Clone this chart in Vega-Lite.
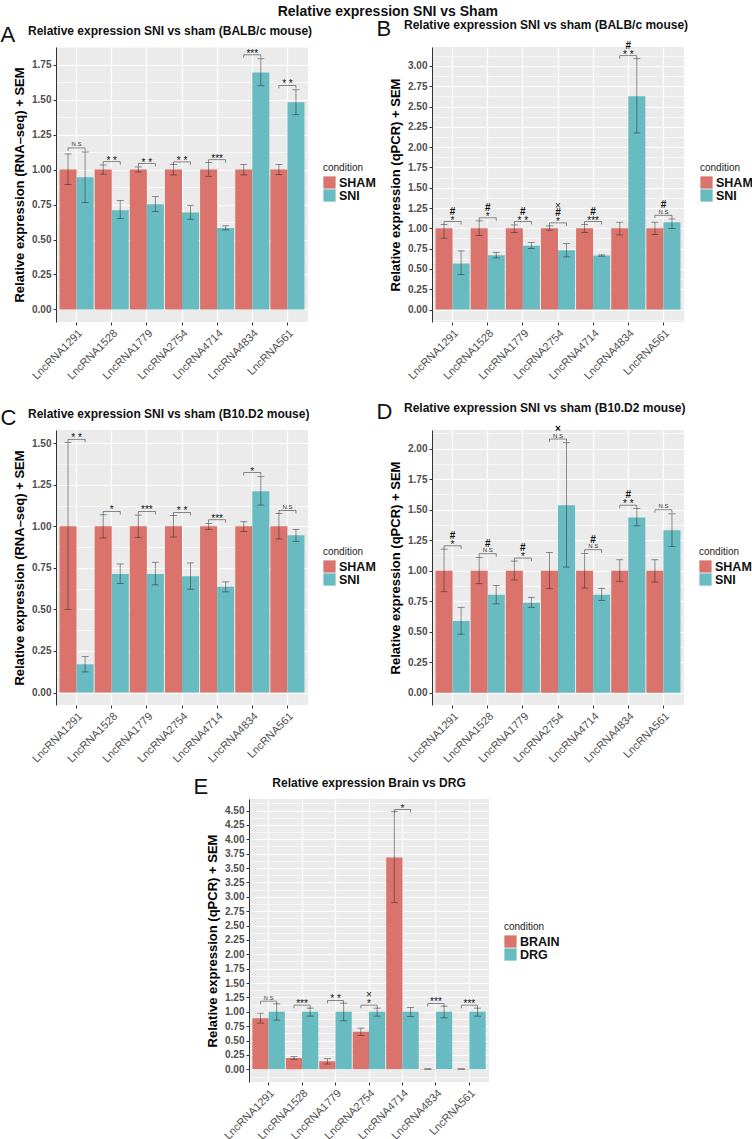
{
  "$schema": "https://vega.github.io/schema/vega-lite/v6.json",
  "padding": {"top": 4, "left": 0, "right": 0, "bottom": 0},
  "title": {"text": "Relative expression SNI vs Sham", "fontSize": 14, "fontWeight": "bold", "anchor": "middle", "color": "#111", "dx": 11, "offset": -1},
  "config": {
    "font": "Liberation Sans",
    "view": {"fill": "#EBEBEB", "stroke": null},
    "axisX": {"grid": true, "gridColor": "white", "gridWidth": 1.2, "labelAngle": -45, "labelFontSize": 11, "labelColor": "#4D4D4D", "tickSize": 3, "tickColor": "#333", "domain": false, "labelPadding": 2},
    "axisY": {"domain": true, "domainColor": "#333", "domainWidth": 1, "labelFontWeight": "bold", "labelFontSize": 10, "labelColor": "#4D4D4D", "tickSize": 3, "tickColor": "#333", "titleFontSize": 13, "titleFontWeight": "bold", "titleColor": "#000", "titlePadding": 5, "gridColor": "white", "gridWidth": 1.2, "labelPadding": 2, "labelFlush": false, "labelOverlap": false, "format": ".2f"},
    "legend": {"orient": "none", "titleFontSize": 10, "titleFontWeight": "normal", "titleColor": "#222", "labelFontSize": 12.5, "labelFontWeight": "bold", "labelColor": "#111", "symbolType": "square", "symbolSize": 150, "symbolStrokeWidth": 0, "symbolOpacity": 1, "rowPadding": 0, "titlePadding": 3, "labelOffset": 3}
  },
  "datasets": {
    "aBars": [
      {"gene": "LncRNA1291", "condition": "SHAM", "mean": 1.0, "lo": 0.893, "hi": 1.112},
      {"gene": "LncRNA1291", "condition": "SNI", "mean": 0.945, "lo": 0.764, "hi": 1.126},
      {"gene": "LncRNA1528", "condition": "SHAM", "mean": 1.0, "lo": 0.967, "hi": 1.033},
      {"gene": "LncRNA1528", "condition": "SNI", "mean": 0.71, "lo": 0.65, "hi": 0.779},
      {"gene": "LncRNA1779", "condition": "SHAM", "mean": 1.0, "lo": 0.983, "hi": 1.019},
      {"gene": "LncRNA1779", "condition": "SNI", "mean": 0.752, "lo": 0.70, "hi": 0.807},
      {"gene": "LncRNA2754", "condition": "SHAM", "mean": 1.0, "lo": 0.962, "hi": 1.036},
      {"gene": "LncRNA2754", "condition": "SNI", "mean": 0.693, "lo": 0.645, "hi": 0.743},
      {"gene": "LncRNA4714", "condition": "SHAM", "mean": 1.0, "lo": 0.952, "hi": 1.05},
      {"gene": "LncRNA4714", "condition": "SNI", "mean": 0.583, "lo": 0.569, "hi": 0.598},
      {"gene": "LncRNA4834", "condition": "SHAM", "mean": 1.0, "lo": 0.962, "hi": 1.036},
      {"gene": "LncRNA4834", "condition": "SNI", "mean": 1.695, "lo": 1.60, "hi": 1.793},
      {"gene": "LncRNA561", "condition": "SHAM", "mean": 1.0, "lo": 0.964, "hi": 1.036},
      {"gene": "LncRNA561", "condition": "SNI", "mean": 1.481, "lo": 1.393, "hi": 1.571}
    ],
    "aAnn": [
      {"gene": "LncRNA1291", "bracket": 1.155, "sig": "N.S"},
      {"gene": "LncRNA1528", "bracket": 1.057, "sig": "* *"},
      {"gene": "LncRNA1779", "bracket": 1.043, "sig": "* *"},
      {"gene": "LncRNA2754", "bracket": 1.055, "sig": "* *"},
      {"gene": "LncRNA4714", "bracket": 1.071, "sig": "***"},
      {"gene": "LncRNA4834", "bracket": 1.821, "sig": "***"},
      {"gene": "LncRNA561", "bracket": 1.602, "sig": "* *"}
    ],
    "bBars": [
      {"gene": "LncRNA1291", "condition": "SHAM", "mean": 1.0, "lo": 0.878, "hi": 1.046},
      {"gene": "LncRNA1291", "condition": "SNI", "mean": 0.566, "lo": 0.431, "hi": 0.722},
      {"gene": "LncRNA1528", "condition": "SHAM", "mean": 1.0, "lo": 0.911, "hi": 1.092},
      {"gene": "LncRNA1528", "condition": "SNI", "mean": 0.669, "lo": 0.636, "hi": 0.702},
      {"gene": "LncRNA1779", "condition": "SHAM", "mean": 1.0, "lo": 0.948, "hi": 1.042},
      {"gene": "LncRNA1779", "condition": "SNI", "mean": 0.784, "lo": 0.751, "hi": 0.825},
      {"gene": "LncRNA2754", "condition": "SHAM", "mean": 1.0, "lo": 0.977, "hi": 1.03},
      {"gene": "LncRNA2754", "condition": "SNI", "mean": 0.73, "lo": 0.648, "hi": 0.813},
      {"gene": "LncRNA4714", "condition": "SHAM", "mean": 1.0, "lo": 0.948, "hi": 1.046},
      {"gene": "LncRNA4714", "condition": "SNI", "mean": 0.665, "lo": 0.657, "hi": 0.673},
      {"gene": "LncRNA4834", "condition": "SHAM", "mean": 1.0, "lo": 0.919, "hi": 1.075},
      {"gene": "LncRNA4834", "condition": "SNI", "mean": 2.626, "lo": 2.175, "hi": 3.09},
      {"gene": "LncRNA561", "condition": "SHAM", "mean": 1.0, "lo": 0.923, "hi": 1.075},
      {"gene": "LncRNA561", "condition": "SNI", "mean": 1.075, "lo": 0.997, "hi": 1.116}
    ],
    "bAnn": [
      {"gene": "LncRNA1291", "bracket": 1.083, "sig": "*", "l2": "#"},
      {"gene": "LncRNA1528", "bracket": 1.129, "sig": "*", "l2": "#"},
      {"gene": "LncRNA1779", "bracket": 1.083, "sig": "* *", "l2": "#"},
      {"gene": "LncRNA2754", "bracket": 1.067, "sig": "*", "l2": "#", "l3": "×"},
      {"gene": "LncRNA4714", "bracket": 1.083, "sig": "***", "l2": "#"},
      {"gene": "LncRNA4834", "bracket": 3.127, "sig": "* *", "l2": "#"},
      {"gene": "LncRNA561", "bracket": 1.161, "sig": "N.S", "l2": "#"}
    ],
    "cBars": [
      {"gene": "LncRNA1291", "condition": "SHAM", "mean": 1.0, "lo": 0.5, "hi": 1.504},
      {"gene": "LncRNA1291", "condition": "SNI", "mean": 0.17, "lo": 0.124, "hi": 0.216},
      {"gene": "LncRNA1528", "condition": "SHAM", "mean": 1.0, "lo": 0.93, "hi": 1.07},
      {"gene": "LncRNA1528", "condition": "SNI", "mean": 0.714, "lo": 0.656, "hi": 0.774},
      {"gene": "LncRNA1779", "condition": "SHAM", "mean": 1.0, "lo": 0.934, "hi": 1.068},
      {"gene": "LncRNA1779", "condition": "SNI", "mean": 0.714, "lo": 0.648, "hi": 0.784},
      {"gene": "LncRNA2754", "condition": "SHAM", "mean": 1.0, "lo": 0.936, "hi": 1.066},
      {"gene": "LncRNA2754", "condition": "SNI", "mean": 0.70, "lo": 0.622, "hi": 0.78},
      {"gene": "LncRNA4714", "condition": "SHAM", "mean": 1.0, "lo": 0.982, "hi": 1.018},
      {"gene": "LncRNA4714", "condition": "SNI", "mean": 0.636, "lo": 0.606, "hi": 0.666},
      {"gene": "LncRNA4834", "condition": "SHAM", "mean": 1.0, "lo": 0.97, "hi": 1.028},
      {"gene": "LncRNA4834", "condition": "SNI", "mean": 1.212, "lo": 1.128, "hi": 1.30},
      {"gene": "LncRNA561", "condition": "SHAM", "mean": 1.0, "lo": 0.924, "hi": 1.078},
      {"gene": "LncRNA561", "condition": "SNI", "mean": 0.946, "lo": 0.91, "hi": 0.982}
    ],
    "cAnn": [
      {"gene": "LncRNA1291", "bracket": 1.524, "sig": "* *"},
      {"gene": "LncRNA1528", "bracket": 1.09, "sig": "*"},
      {"gene": "LncRNA1779", "bracket": 1.09, "sig": "***"},
      {"gene": "LncRNA2754", "bracket": 1.084, "sig": "* *"},
      {"gene": "LncRNA4714", "bracket": 1.04, "sig": "***"},
      {"gene": "LncRNA4834", "bracket": 1.324, "sig": "*"},
      {"gene": "LncRNA561", "bracket": 1.096, "sig": "N.S"}
    ],
    "dBars": [
      {"gene": "LncRNA1291", "condition": "SHAM", "mean": 1.0, "lo": 0.828, "hi": 1.177},
      {"gene": "LncRNA1291", "condition": "SNI", "mean": 0.589, "lo": 0.48, "hi": 0.70},
      {"gene": "LncRNA1528", "condition": "SHAM", "mean": 1.0, "lo": 0.894, "hi": 1.109},
      {"gene": "LncRNA1528", "condition": "SNI", "mean": 0.804, "lo": 0.728, "hi": 0.88},
      {"gene": "LncRNA1779", "condition": "SHAM", "mean": 1.0, "lo": 0.924, "hi": 1.079},
      {"gene": "LncRNA1779", "condition": "SNI", "mean": 0.738, "lo": 0.70, "hi": 0.782},
      {"gene": "LncRNA2754", "condition": "SHAM", "mean": 1.0, "lo": 0.853, "hi": 1.15},
      {"gene": "LncRNA2754", "condition": "SNI", "mean": 1.537, "lo": 1.03, "hi": 2.049},
      {"gene": "LncRNA4714", "condition": "SHAM", "mean": 1.0, "lo": 0.858, "hi": 1.142},
      {"gene": "LncRNA4714", "condition": "SNI", "mean": 0.804, "lo": 0.757, "hi": 0.856},
      {"gene": "LncRNA4834", "condition": "SHAM", "mean": 1.0, "lo": 0.913, "hi": 1.09},
      {"gene": "LncRNA4834", "condition": "SNI", "mean": 1.436, "lo": 1.368, "hi": 1.51},
      {"gene": "LncRNA561", "condition": "SHAM", "mean": 1.0, "lo": 0.907, "hi": 1.09},
      {"gene": "LncRNA561", "condition": "SNI", "mean": 1.332, "lo": 1.199, "hi": 1.466}
    ],
    "dAnn": [
      {"gene": "LncRNA1291", "bracket": 1.204, "sig": "*", "l2": "#"},
      {"gene": "LncRNA1528", "bracket": 1.139, "sig": "N.S", "l2": "#"},
      {"gene": "LncRNA1779", "bracket": 1.104, "sig": "*", "l2": "#"},
      {"gene": "LncRNA2754", "bracket": 2.079, "sig": "N.S", "l2": "×"},
      {"gene": "LncRNA4714", "bracket": 1.172, "sig": "N.S", "l2": "#"},
      {"gene": "LncRNA4834", "bracket": 1.537, "sig": "* *", "l2": "#"},
      {"gene": "LncRNA561", "bracket": 1.499, "sig": "N.S"}
    ],
    "eBars": [
      {"gene": "LncRNA1291", "condition": "BRAIN", "mean": 0.89, "lo": 0.804, "hi": 0.977},
      {"gene": "LncRNA1291", "condition": "DRG", "mean": 1.0, "lo": 0.856, "hi": 1.139},
      {"gene": "LncRNA1528", "condition": "BRAIN", "mean": 0.197, "lo": 0.174, "hi": 0.22},
      {"gene": "LncRNA1528", "condition": "DRG", "mean": 1.0, "lo": 0.925, "hi": 1.064},
      {"gene": "LncRNA1779", "condition": "BRAIN", "mean": 0.139, "lo": 0.093, "hi": 0.185},
      {"gene": "LncRNA1779", "condition": "DRG", "mean": 1.0, "lo": 0.844, "hi": 1.151},
      {"gene": "LncRNA2754", "condition": "BRAIN", "mean": 0.654, "lo": 0.59, "hi": 0.717},
      {"gene": "LncRNA2754", "condition": "DRG", "mean": 1.0, "lo": 0.925, "hi": 1.064},
      {"gene": "LncRNA4714", "condition": "BRAIN", "mean": 3.684, "lo": 2.898, "hi": 4.482},
      {"gene": "LncRNA4714", "condition": "DRG", "mean": 1.0, "lo": 0.92, "hi": 1.076},
      {"gene": "LncRNA4834", "condition": "BRAIN", "mean": 0.006, "lo": 0.004, "hi": 0.008},
      {"gene": "LncRNA4834", "condition": "DRG", "mean": 1.0, "lo": 0.896, "hi": 1.099},
      {"gene": "LncRNA561", "condition": "BRAIN", "mean": 0.006, "lo": 0.004, "hi": 0.008},
      {"gene": "LncRNA561", "condition": "DRG", "mean": 1.0, "lo": 0.925, "hi": 1.064}
    ],
    "eAnn": [
      {"gene": "LncRNA1291", "bracket": 1.186, "sig": "N.S"},
      {"gene": "LncRNA1528", "bracket": 1.116, "sig": "***"},
      {"gene": "LncRNA1779", "bracket": 1.197, "sig": "* *"},
      {"gene": "LncRNA2754", "bracket": 1.116, "sig": "*", "l2": "×"},
      {"gene": "LncRNA4714", "bracket": 4.517, "sig": "*"},
      {"gene": "LncRNA4834", "bracket": 1.145, "sig": "***"},
      {"gene": "LncRNA561", "bracket": 1.116, "sig": "***"}
    ]
  },
  "resolve": {"scale": {"color": "independent", "xOffset": "independent", "x": "independent", "y": "independent"}, "legend": {"color": "independent"}},
  "center": true,
  "spacing": 11,
  "vconcat": [
    {
      "resolve": {"scale": {"color": "independent", "xOffset": "independent", "x": "independent", "y": "independent"}, "legend": {"color": "independent"}},
      "spacing": 19,
      "vconcat": [
        {
          "resolve": {"scale": {"color": "independent", "xOffset": "independent", "x": "independent", "y": "independent"}, "legend": {"color": "independent"}},
          "spacing": 0,
          "hconcat": [
            {
              "title": {"text": "A", "fontSize": 22, "fontWeight": "normal", "anchor": "start", "frame": "bounds", "offset": -22, "dx": -13, "color": "#111"},
              "resolve": {"scale": {"color": "independent", "xOffset": "independent"}, "legend": {"color": "independent"}},
              "vconcat": [
                {
                  "width": 252, "height": 275,
                  "title": {"text": "Relative expression SNI vs sham (BALB/c mouse)", "fontSize": 12, "fontWeight": "bold", "anchor": "start", "frame": "group", "dx": -28, "offset": 9, "color": "#111"},
                  "resolve": {"axis": {"y": "independent"}},
                  "layer": [
                    {"data": {"name": "aBars"}, "mark": {"type": "bar"},
                     "encoding": {
                       "x": {"field": "gene", "type": "nominal", "sort": null, "title": null, "scale": {"paddingInner": 0.03, "paddingOuter": 0.1}},
                       "xOffset": {"field": "condition", "type": "nominal", "scale": {"paddingInner": 0, "paddingOuter": 0}},
                       "y": {"field": "mean", "type": "quantitative", "title": "Relative expression (RNA–seq) + SEM", "scale": {"domain": [-0.09, 1.877], "nice": false, "zero": false},
                             "axis": {"values": [0,0.25,0.5,0.75,1,1.25,1.5,1.75]}},
                       "color": {"field": "condition", "type": "nominal", "scale": {"domain": ["SHAM", "SNI"], "range": ["#DA736B", "#67BBC1"]}, "legend": {"legendX": 267, "legendY": 116}}
                     }},
                    {"data": {"name": "aBars"}, "mark": {"type": "rule", "color": "#222", "opacity": 0.6, "strokeWidth": 0.8},
                     "encoding": {"x": {"field": "gene", "type": "nominal", "sort": null}, "xOffset": {"field": "condition", "type": "nominal"}, "y": {"field": "lo", "type": "quantitative", "axis": null}, "y2": {"field": "hi"}}},
                    {"data": {"name": "aBars"}, "mark": {"type": "tick", "orient": "horizontal", "size": 7, "thickness": 0.8, "color": "#222", "opacity": 0.6},
                     "encoding": {"x": {"field": "gene", "type": "nominal", "sort": null}, "xOffset": {"field": "condition", "type": "nominal"}, "y": {"field": "hi", "type": "quantitative", "axis": {"orient": "right", "values": [0.125,0.375,0.625,0.875,1.125,1.375,1.625,1.875], "labels": false, "ticks": false, "domain": false, "grid": true, "gridWidth": 0.6, "title": null}}}},
                    {"data": {"name": "aBars"}, "mark": {"type": "tick", "orient": "horizontal", "size": 7, "thickness": 0.8, "color": "#222", "opacity": 0.6},
                     "encoding": {"x": {"field": "gene", "type": "nominal", "sort": null}, "xOffset": {"field": "condition", "type": "nominal"}, "y": {"field": "lo", "type": "quantitative", "axis": null}}},
                    {"data": {"name": "aAnn"}, "mark": {"type": "tick", "orient": "horizontal", "size": 17, "thickness": 0.8, "color": "#333"},
                     "encoding": {"x": {"field": "gene", "type": "nominal", "sort": null}, "y": {"field": "bracket", "type": "quantitative", "axis": null}}},
                    {"data": {"name": "aAnn"}, "mark": {"type": "tick", "orient": "vertical", "size": 3, "thickness": 0.8, "color": "#333", "yOffset": 1.5},
                     "encoding": {"x": {"field": "gene", "type": "nominal", "sort": null, "bandPosition": 0.25}, "y": {"field": "bracket", "type": "quantitative", "axis": null}}},
                    {"data": {"name": "aAnn"}, "mark": {"type": "tick", "orient": "vertical", "size": 3, "thickness": 0.8, "color": "#333", "yOffset": 1.5},
                     "encoding": {"x": {"field": "gene", "type": "nominal", "sort": null, "bandPosition": 0.75}, "y": {"field": "bracket", "type": "quantitative", "axis": null}}},
                    {"data": {"name": "aAnn"}, "transform": [{"filter": "datum.sig !== 'N.S'"}], "mark": {"type": "text", "fontSize": 10, "dy": 2, "baseline": "alphabetic", "color": "#111"},
                     "encoding": {"x": {"field": "gene", "type": "nominal", "sort": null}, "y": {"field": "bracket", "type": "quantitative", "axis": null}, "text": {"field": "sig"}}},
                    {"data": {"name": "aAnn"}, "transform": [{"filter": "datum.sig === 'N.S'"}], "mark": {"type": "text", "fontSize": 6, "dy": -1.5, "baseline": "alphabetic", "color": "#333"},
                     "encoding": {"x": {"field": "gene", "type": "nominal", "sort": null}, "y": {"field": "bracket", "type": "quantitative", "axis": null}, "text": {"field": "sig"}}}
                  ]
                }
              ]
            },
            {
              "title": {"text": "B", "fontSize": 22, "fontWeight": "normal", "anchor": "start", "frame": "bounds", "offset": -22, "dx": -13, "color": "#111"},
              "resolve": {"scale": {"color": "independent", "xOffset": "independent"}, "legend": {"color": "independent"}},
              "vconcat": [
                {
                  "width": 252, "height": 275,
                  "title": {"text": "Relative expression SNI vs sham (BALB/c mouse)", "fontSize": 12, "fontWeight": "bold", "anchor": "start", "frame": "group", "dx": -28, "offset": 9, "color": "#111"},
                  "resolve": {"axis": {"y": "independent"}},
                  "layer": [
                    {"data": {"name": "bBars"}, "mark": {"type": "bar"},
                     "encoding": {
                       "x": {"field": "gene", "type": "nominal", "sort": null, "title": null, "scale": {"paddingInner": 0.03, "paddingOuter": 0.1}},
                       "xOffset": {"field": "condition", "type": "nominal", "scale": {"paddingInner": 0, "paddingOuter": 0}},
                       "y": {"field": "mean", "type": "quantitative", "title": "Relative expression (qPCR) + SEM", "scale": {"domain": [-0.154, 3.234], "nice": false, "zero": false},
                             "axis": {"values": [0,0.25,0.5,0.75,1,1.25,1.5,1.75,2,2.25,2.5,2.75,3]}},
                       "color": {"field": "condition", "type": "nominal", "scale": {"domain": ["SHAM", "SNI"], "range": ["#DA736B", "#67BBC1"]}, "legend": {"legendX": 268, "legendY": 116}}
                     }},
                    {"data": {"name": "bBars"}, "mark": {"type": "rule", "color": "#222", "opacity": 0.6, "strokeWidth": 0.8},
                     "encoding": {"x": {"field": "gene", "type": "nominal", "sort": null}, "xOffset": {"field": "condition", "type": "nominal"}, "y": {"field": "lo", "type": "quantitative", "axis": null}, "y2": {"field": "hi"}}},
                    {"data": {"name": "bBars"}, "mark": {"type": "tick", "orient": "horizontal", "size": 7, "thickness": 0.8, "color": "#222", "opacity": 0.6},
                     "encoding": {"x": {"field": "gene", "type": "nominal", "sort": null}, "xOffset": {"field": "condition", "type": "nominal"}, "y": {"field": "hi", "type": "quantitative", "axis": {"orient": "right", "values": [-0.125,0.125,0.375,0.625,0.875,1.125,1.375,1.625,1.875,2.125,2.375,2.625,2.875,3.125], "labels": false, "ticks": false, "domain": false, "grid": true, "gridWidth": 0.6, "title": null}}}},
                    {"data": {"name": "bBars"}, "mark": {"type": "tick", "orient": "horizontal", "size": 7, "thickness": 0.8, "color": "#222", "opacity": 0.6},
                     "encoding": {"x": {"field": "gene", "type": "nominal", "sort": null}, "xOffset": {"field": "condition", "type": "nominal"}, "y": {"field": "lo", "type": "quantitative", "axis": null}}},
                    {"data": {"name": "bAnn"}, "mark": {"type": "tick", "orient": "horizontal", "size": 17, "thickness": 0.8, "color": "#333"},
                     "encoding": {"x": {"field": "gene", "type": "nominal", "sort": null}, "y": {"field": "bracket", "type": "quantitative", "axis": null}}},
                    {"data": {"name": "bAnn"}, "mark": {"type": "tick", "orient": "vertical", "size": 3, "thickness": 0.8, "color": "#333", "yOffset": 1.5},
                     "encoding": {"x": {"field": "gene", "type": "nominal", "sort": null, "bandPosition": 0.25}, "y": {"field": "bracket", "type": "quantitative", "axis": null}}},
                    {"data": {"name": "bAnn"}, "mark": {"type": "tick", "orient": "vertical", "size": 3, "thickness": 0.8, "color": "#333", "yOffset": 1.5},
                     "encoding": {"x": {"field": "gene", "type": "nominal", "sort": null, "bandPosition": 0.75}, "y": {"field": "bracket", "type": "quantitative", "axis": null}}},
                    {"data": {"name": "bAnn"}, "transform": [{"filter": "datum.sig !== 'N.S'"}], "mark": {"type": "text", "fontSize": 10, "dy": 2, "baseline": "alphabetic", "color": "#111"},
                     "encoding": {"x": {"field": "gene", "type": "nominal", "sort": null}, "y": {"field": "bracket", "type": "quantitative", "axis": null}, "text": {"field": "sig"}}},
                    {"data": {"name": "bAnn"}, "transform": [{"filter": "datum.sig === 'N.S'"}], "mark": {"type": "text", "fontSize": 6, "dy": -1.5, "baseline": "alphabetic", "color": "#333"},
                     "encoding": {"x": {"field": "gene", "type": "nominal", "sort": null}, "y": {"field": "bracket", "type": "quantitative", "axis": null}, "text": {"field": "sig"}}},
                    {"data": {"name": "bAnn"}, "transform": [{"filter": "datum.l2"}], "mark": {"type": "text", "fontSize": 10, "fontWeight": "bold", "dy": -7, "baseline": "alphabetic", "color": "#111"},
                     "encoding": {"x": {"field": "gene", "type": "nominal", "sort": null}, "y": {"field": "bracket", "type": "quantitative", "axis": null}, "text": {"field": "l2"}}},
                    {"data": {"name": "bAnn"}, "transform": [{"filter": "datum.l3"}], "mark": {"type": "text", "fontSize": 10, "dy": -14, "baseline": "alphabetic", "color": "#111"},
                     "encoding": {"x": {"field": "gene", "type": "nominal", "sort": null}, "y": {"field": "bracket", "type": "quantitative", "axis": null}, "text": {"field": "l3"}}}
                  ]
                }
              ]
            }
          ]
        },
        {
          "resolve": {"scale": {"color": "independent", "xOffset": "independent", "x": "independent", "y": "independent"}, "legend": {"color": "independent"}},
          "spacing": 0,
          "hconcat": [
            {
              "title": {"text": "C", "fontSize": 22, "fontWeight": "normal", "anchor": "start", "frame": "bounds", "offset": -22, "dx": -13, "color": "#111"},
              "resolve": {"scale": {"color": "independent", "xOffset": "independent"}, "legend": {"color": "independent"}},
              "vconcat": [
                {
                  "width": 252, "height": 275,
                  "title": {"text": "Relative expression SNI vs sham (B10.D2 mouse)", "fontSize": 12, "fontWeight": "bold", "anchor": "start", "frame": "group", "dx": -28, "offset": 9, "color": "#111"},
                  "resolve": {"axis": {"y": "independent"}},
                  "layer": [
                    {"data": {"name": "cBars"}, "mark": {"type": "bar"},
                     "encoding": {
                       "x": {"field": "gene", "type": "nominal", "sort": null, "title": null, "scale": {"paddingInner": 0.03, "paddingOuter": 0.1}},
                       "xOffset": {"field": "condition", "type": "nominal", "scale": {"paddingInner": 0, "paddingOuter": 0}},
                       "y": {"field": "mean", "type": "quantitative", "title": "Relative expression (RNA–seq) + SEM", "scale": {"domain": [-0.075, 1.58], "nice": false, "zero": false},
                             "axis": {"values": [0,0.25,0.5,0.75,1,1.25,1.5]}},
                       "color": {"field": "condition", "type": "nominal", "scale": {"domain": ["SHAM", "SNI"], "range": ["#DA736B", "#67BBC1"]}, "legend": {"legendX": 267, "legendY": 117}}
                     }},
                    {"data": {"name": "cBars"}, "mark": {"type": "rule", "color": "#222", "opacity": 0.6, "strokeWidth": 0.8},
                     "encoding": {"x": {"field": "gene", "type": "nominal", "sort": null}, "xOffset": {"field": "condition", "type": "nominal"}, "y": {"field": "lo", "type": "quantitative", "axis": null}, "y2": {"field": "hi"}}},
                    {"data": {"name": "cBars"}, "mark": {"type": "tick", "orient": "horizontal", "size": 7, "thickness": 0.8, "color": "#222", "opacity": 0.6},
                     "encoding": {"x": {"field": "gene", "type": "nominal", "sort": null}, "xOffset": {"field": "condition", "type": "nominal"}, "y": {"field": "hi", "type": "quantitative", "axis": {"orient": "right", "values": [0.125,0.375,0.625,0.875,1.125,1.375], "labels": false, "ticks": false, "domain": false, "grid": true, "gridWidth": 0.6, "title": null}}}},
                    {"data": {"name": "cBars"}, "mark": {"type": "tick", "orient": "horizontal", "size": 7, "thickness": 0.8, "color": "#222", "opacity": 0.6},
                     "encoding": {"x": {"field": "gene", "type": "nominal", "sort": null}, "xOffset": {"field": "condition", "type": "nominal"}, "y": {"field": "lo", "type": "quantitative", "axis": null}}},
                    {"data": {"name": "cAnn"}, "mark": {"type": "tick", "orient": "horizontal", "size": 17, "thickness": 0.8, "color": "#333"},
                     "encoding": {"x": {"field": "gene", "type": "nominal", "sort": null}, "y": {"field": "bracket", "type": "quantitative", "axis": null}}},
                    {"data": {"name": "cAnn"}, "mark": {"type": "tick", "orient": "vertical", "size": 3, "thickness": 0.8, "color": "#333", "yOffset": 1.5},
                     "encoding": {"x": {"field": "gene", "type": "nominal", "sort": null, "bandPosition": 0.25}, "y": {"field": "bracket", "type": "quantitative", "axis": null}}},
                    {"data": {"name": "cAnn"}, "mark": {"type": "tick", "orient": "vertical", "size": 3, "thickness": 0.8, "color": "#333", "yOffset": 1.5},
                     "encoding": {"x": {"field": "gene", "type": "nominal", "sort": null, "bandPosition": 0.75}, "y": {"field": "bracket", "type": "quantitative", "axis": null}}},
                    {"data": {"name": "cAnn"}, "transform": [{"filter": "datum.sig !== 'N.S'"}], "mark": {"type": "text", "fontSize": 10, "dy": 2, "baseline": "alphabetic", "color": "#111"},
                     "encoding": {"x": {"field": "gene", "type": "nominal", "sort": null}, "y": {"field": "bracket", "type": "quantitative", "axis": null}, "text": {"field": "sig"}}},
                    {"data": {"name": "cAnn"}, "transform": [{"filter": "datum.sig === 'N.S'"}], "mark": {"type": "text", "fontSize": 6, "dy": -1.5, "baseline": "alphabetic", "color": "#333"},
                     "encoding": {"x": {"field": "gene", "type": "nominal", "sort": null}, "y": {"field": "bracket", "type": "quantitative", "axis": null}, "text": {"field": "sig"}}}
                  ]
                }
              ]
            },
            {
              "title": {"text": "D", "fontSize": 22, "fontWeight": "normal", "anchor": "start", "frame": "bounds", "offset": -22, "dx": -13, "color": "#111"},
              "resolve": {"scale": {"color": "independent", "xOffset": "independent"}, "legend": {"color": "independent"}},
              "vconcat": [
                {
                  "width": 252, "height": 275,
                  "title": {"text": "Relative expression SNI vs sham (B10.D2 mouse)", "fontSize": 12, "fontWeight": "bold", "anchor": "start", "frame": "group", "dx": -28, "offset": 9, "color": "#111"},
                  "resolve": {"axis": {"y": "independent"}},
                  "layer": [
                    {"data": {"name": "dBars"}, "mark": {"type": "bar"},
                     "encoding": {
                       "x": {"field": "gene", "type": "nominal", "sort": null, "title": null, "scale": {"paddingInner": 0.03, "paddingOuter": 0.1}},
                       "xOffset": {"field": "condition", "type": "nominal", "scale": {"paddingInner": 0, "paddingOuter": 0}},
                       "y": {"field": "mean", "type": "quantitative", "title": "Relative expression (qPCR) + SEM", "scale": {"domain": [-0.1, 2.153], "nice": false, "zero": false},
                             "axis": {"values": [0,0.25,0.5,0.75,1,1.25,1.5,1.75,2]}},
                       "color": {"field": "condition", "type": "nominal", "scale": {"domain": ["SHAM", "SNI"], "range": ["#DA736B", "#67BBC1"]}, "legend": {"legendX": 267, "legendY": 117}}
                     }},
                    {"data": {"name": "dBars"}, "mark": {"type": "rule", "color": "#222", "opacity": 0.6, "strokeWidth": 0.8},
                     "encoding": {"x": {"field": "gene", "type": "nominal", "sort": null}, "xOffset": {"field": "condition", "type": "nominal"}, "y": {"field": "lo", "type": "quantitative", "axis": null}, "y2": {"field": "hi"}}},
                    {"data": {"name": "dBars"}, "mark": {"type": "tick", "orient": "horizontal", "size": 7, "thickness": 0.8, "color": "#222", "opacity": 0.6},
                     "encoding": {"x": {"field": "gene", "type": "nominal", "sort": null}, "xOffset": {"field": "condition", "type": "nominal"}, "y": {"field": "hi", "type": "quantitative", "axis": {"orient": "right", "values": [0.125,0.375,0.625,0.875,1.125,1.375,1.625,1.875,2.125], "labels": false, "ticks": false, "domain": false, "grid": true, "gridWidth": 0.6, "title": null}}}},
                    {"data": {"name": "dBars"}, "mark": {"type": "tick", "orient": "horizontal", "size": 7, "thickness": 0.8, "color": "#222", "opacity": 0.6},
                     "encoding": {"x": {"field": "gene", "type": "nominal", "sort": null}, "xOffset": {"field": "condition", "type": "nominal"}, "y": {"field": "lo", "type": "quantitative", "axis": null}}},
                    {"data": {"name": "dAnn"}, "mark": {"type": "tick", "orient": "horizontal", "size": 17, "thickness": 0.8, "color": "#333"},
                     "encoding": {"x": {"field": "gene", "type": "nominal", "sort": null}, "y": {"field": "bracket", "type": "quantitative", "axis": null}}},
                    {"data": {"name": "dAnn"}, "mark": {"type": "tick", "orient": "vertical", "size": 3, "thickness": 0.8, "color": "#333", "yOffset": 1.5},
                     "encoding": {"x": {"field": "gene", "type": "nominal", "sort": null, "bandPosition": 0.25}, "y": {"field": "bracket", "type": "quantitative", "axis": null}}},
                    {"data": {"name": "dAnn"}, "mark": {"type": "tick", "orient": "vertical", "size": 3, "thickness": 0.8, "color": "#333", "yOffset": 1.5},
                     "encoding": {"x": {"field": "gene", "type": "nominal", "sort": null, "bandPosition": 0.75}, "y": {"field": "bracket", "type": "quantitative", "axis": null}}},
                    {"data": {"name": "dAnn"}, "transform": [{"filter": "datum.sig !== 'N.S'"}], "mark": {"type": "text", "fontSize": 10, "dy": 2, "baseline": "alphabetic", "color": "#111"},
                     "encoding": {"x": {"field": "gene", "type": "nominal", "sort": null}, "y": {"field": "bracket", "type": "quantitative", "axis": null}, "text": {"field": "sig"}}},
                    {"data": {"name": "dAnn"}, "transform": [{"filter": "datum.sig === 'N.S'"}], "mark": {"type": "text", "fontSize": 6, "dy": -1.5, "baseline": "alphabetic", "color": "#333"},
                     "encoding": {"x": {"field": "gene", "type": "nominal", "sort": null}, "y": {"field": "bracket", "type": "quantitative", "axis": null}, "text": {"field": "sig"}}},
                    {"data": {"name": "dAnn"}, "transform": [{"filter": "datum.l2"}], "mark": {"type": "text", "fontSize": 10, "fontWeight": "bold", "dy": -7, "baseline": "alphabetic", "color": "#111"},
                     "encoding": {"x": {"field": "gene", "type": "nominal", "sort": null}, "y": {"field": "bracket", "type": "quantitative", "axis": null}, "text": {"field": "l2"}}}
                  ]
                }
              ]
            }
          ]
        }
      ]
    },
    {
      "title": {"text": "E", "fontSize": 22, "fontWeight": "normal", "anchor": "start", "frame": "bounds", "offset": -22, "dx": -13, "color": "#111"},
      "resolve": {"scale": {"color": "independent", "xOffset": "independent"}, "legend": {"color": "independent"}},
      "vconcat": [
        {
          "width": 240, "height": 283,
          "title": {"text": "Relative expression Brain vs DRG", "fontSize": 12, "fontWeight": "bold", "anchor": "middle", "frame": "group", "offset": 9, "color": "#111"},
          "resolve": {"axis": {"y": "independent"}},
          "layer": [
            {"data": {"name": "eBars"}, "mark": {"type": "bar"},
             "encoding": {
               "x": {"field": "gene", "type": "nominal", "sort": null, "title": null, "scale": {"paddingInner": 0.03, "paddingOuter": 0.1}},
               "xOffset": {"field": "condition", "type": "nominal", "scale": {"paddingInner": 0, "paddingOuter": 0}},
               "y": {"field": "mean", "type": "quantitative", "title": "Relative expression (qPCR) + SEM", "scale": {"domain": [-0.22, 4.70], "nice": false, "zero": false},
                     "axis": {"values": [0,0.25,0.5,0.75,1,1.25,1.5,1.75,2,2.25,2.5,2.75,3,3.25,3.5,3.75,4,4.25,4.5]}},
               "color": {"field": "condition", "type": "nominal", "scale": {"domain": ["BRAIN", "DRG"], "range": ["#DA736B", "#67BBC1"]}, "legend": {"legendX": 255, "legendY": 123}}
             }},
            {"data": {"name": "eBars"}, "mark": {"type": "rule", "color": "#222", "opacity": 0.6, "strokeWidth": 0.8},
             "encoding": {"x": {"field": "gene", "type": "nominal", "sort": null}, "xOffset": {"field": "condition", "type": "nominal"}, "y": {"field": "lo", "type": "quantitative", "axis": null}, "y2": {"field": "hi"}}},
            {"data": {"name": "eBars"}, "mark": {"type": "tick", "orient": "horizontal", "size": 7, "thickness": 0.8, "color": "#222", "opacity": 0.6},
             "encoding": {"x": {"field": "gene", "type": "nominal", "sort": null}, "xOffset": {"field": "condition", "type": "nominal"}, "y": {"field": "hi", "type": "quantitative", "axis": {"orient": "right", "values": [-0.125,0.125,0.375,0.625,0.875,1.125,1.375,1.625,1.875,2.125,2.375,2.625,2.875,3.125,3.375,3.625,3.875,4.125,4.375,4.625], "labels": false, "ticks": false, "domain": false, "grid": true, "gridWidth": 0.6, "title": null}}}},
            {"data": {"name": "eBars"}, "mark": {"type": "tick", "orient": "horizontal", "size": 7, "thickness": 0.8, "color": "#222", "opacity": 0.6},
             "encoding": {"x": {"field": "gene", "type": "nominal", "sort": null}, "xOffset": {"field": "condition", "type": "nominal"}, "y": {"field": "lo", "type": "quantitative", "axis": null}}},
            {"data": {"name": "eAnn"}, "mark": {"type": "tick", "orient": "horizontal", "size": 16, "thickness": 0.8, "color": "#333"},
             "encoding": {"x": {"field": "gene", "type": "nominal", "sort": null}, "y": {"field": "bracket", "type": "quantitative", "axis": null}}},
            {"data": {"name": "eAnn"}, "mark": {"type": "tick", "orient": "vertical", "size": 3, "thickness": 0.8, "color": "#333", "yOffset": 1.5},
             "encoding": {"x": {"field": "gene", "type": "nominal", "sort": null, "bandPosition": 0.25}, "y": {"field": "bracket", "type": "quantitative", "axis": null}}},
            {"data": {"name": "eAnn"}, "mark": {"type": "tick", "orient": "vertical", "size": 3, "thickness": 0.8, "color": "#333", "yOffset": 1.5},
             "encoding": {"x": {"field": "gene", "type": "nominal", "sort": null, "bandPosition": 0.75}, "y": {"field": "bracket", "type": "quantitative", "axis": null}}},
            {"data": {"name": "eAnn"}, "transform": [{"filter": "datum.sig !== 'N.S'"}], "mark": {"type": "text", "fontSize": 10, "dy": 2, "baseline": "alphabetic", "color": "#111"},
             "encoding": {"x": {"field": "gene", "type": "nominal", "sort": null}, "y": {"field": "bracket", "type": "quantitative", "axis": null}, "text": {"field": "sig"}}},
            {"data": {"name": "eAnn"}, "transform": [{"filter": "datum.sig === 'N.S'"}], "mark": {"type": "text", "fontSize": 6, "dy": -1.5, "baseline": "alphabetic", "color": "#333"},
             "encoding": {"x": {"field": "gene", "type": "nominal", "sort": null}, "y": {"field": "bracket", "type": "quantitative", "axis": null}, "text": {"field": "sig"}}},
            {"data": {"name": "eAnn"}, "transform": [{"filter": "datum.l2"}], "mark": {"type": "text", "fontSize": 10, "dy": -7, "baseline": "alphabetic", "color": "#111"},
             "encoding": {"x": {"field": "gene", "type": "nominal", "sort": null}, "y": {"field": "bracket", "type": "quantitative", "axis": null}, "text": {"field": "l2"}}}
          ]
        }
      ]
    }
  ]
}
